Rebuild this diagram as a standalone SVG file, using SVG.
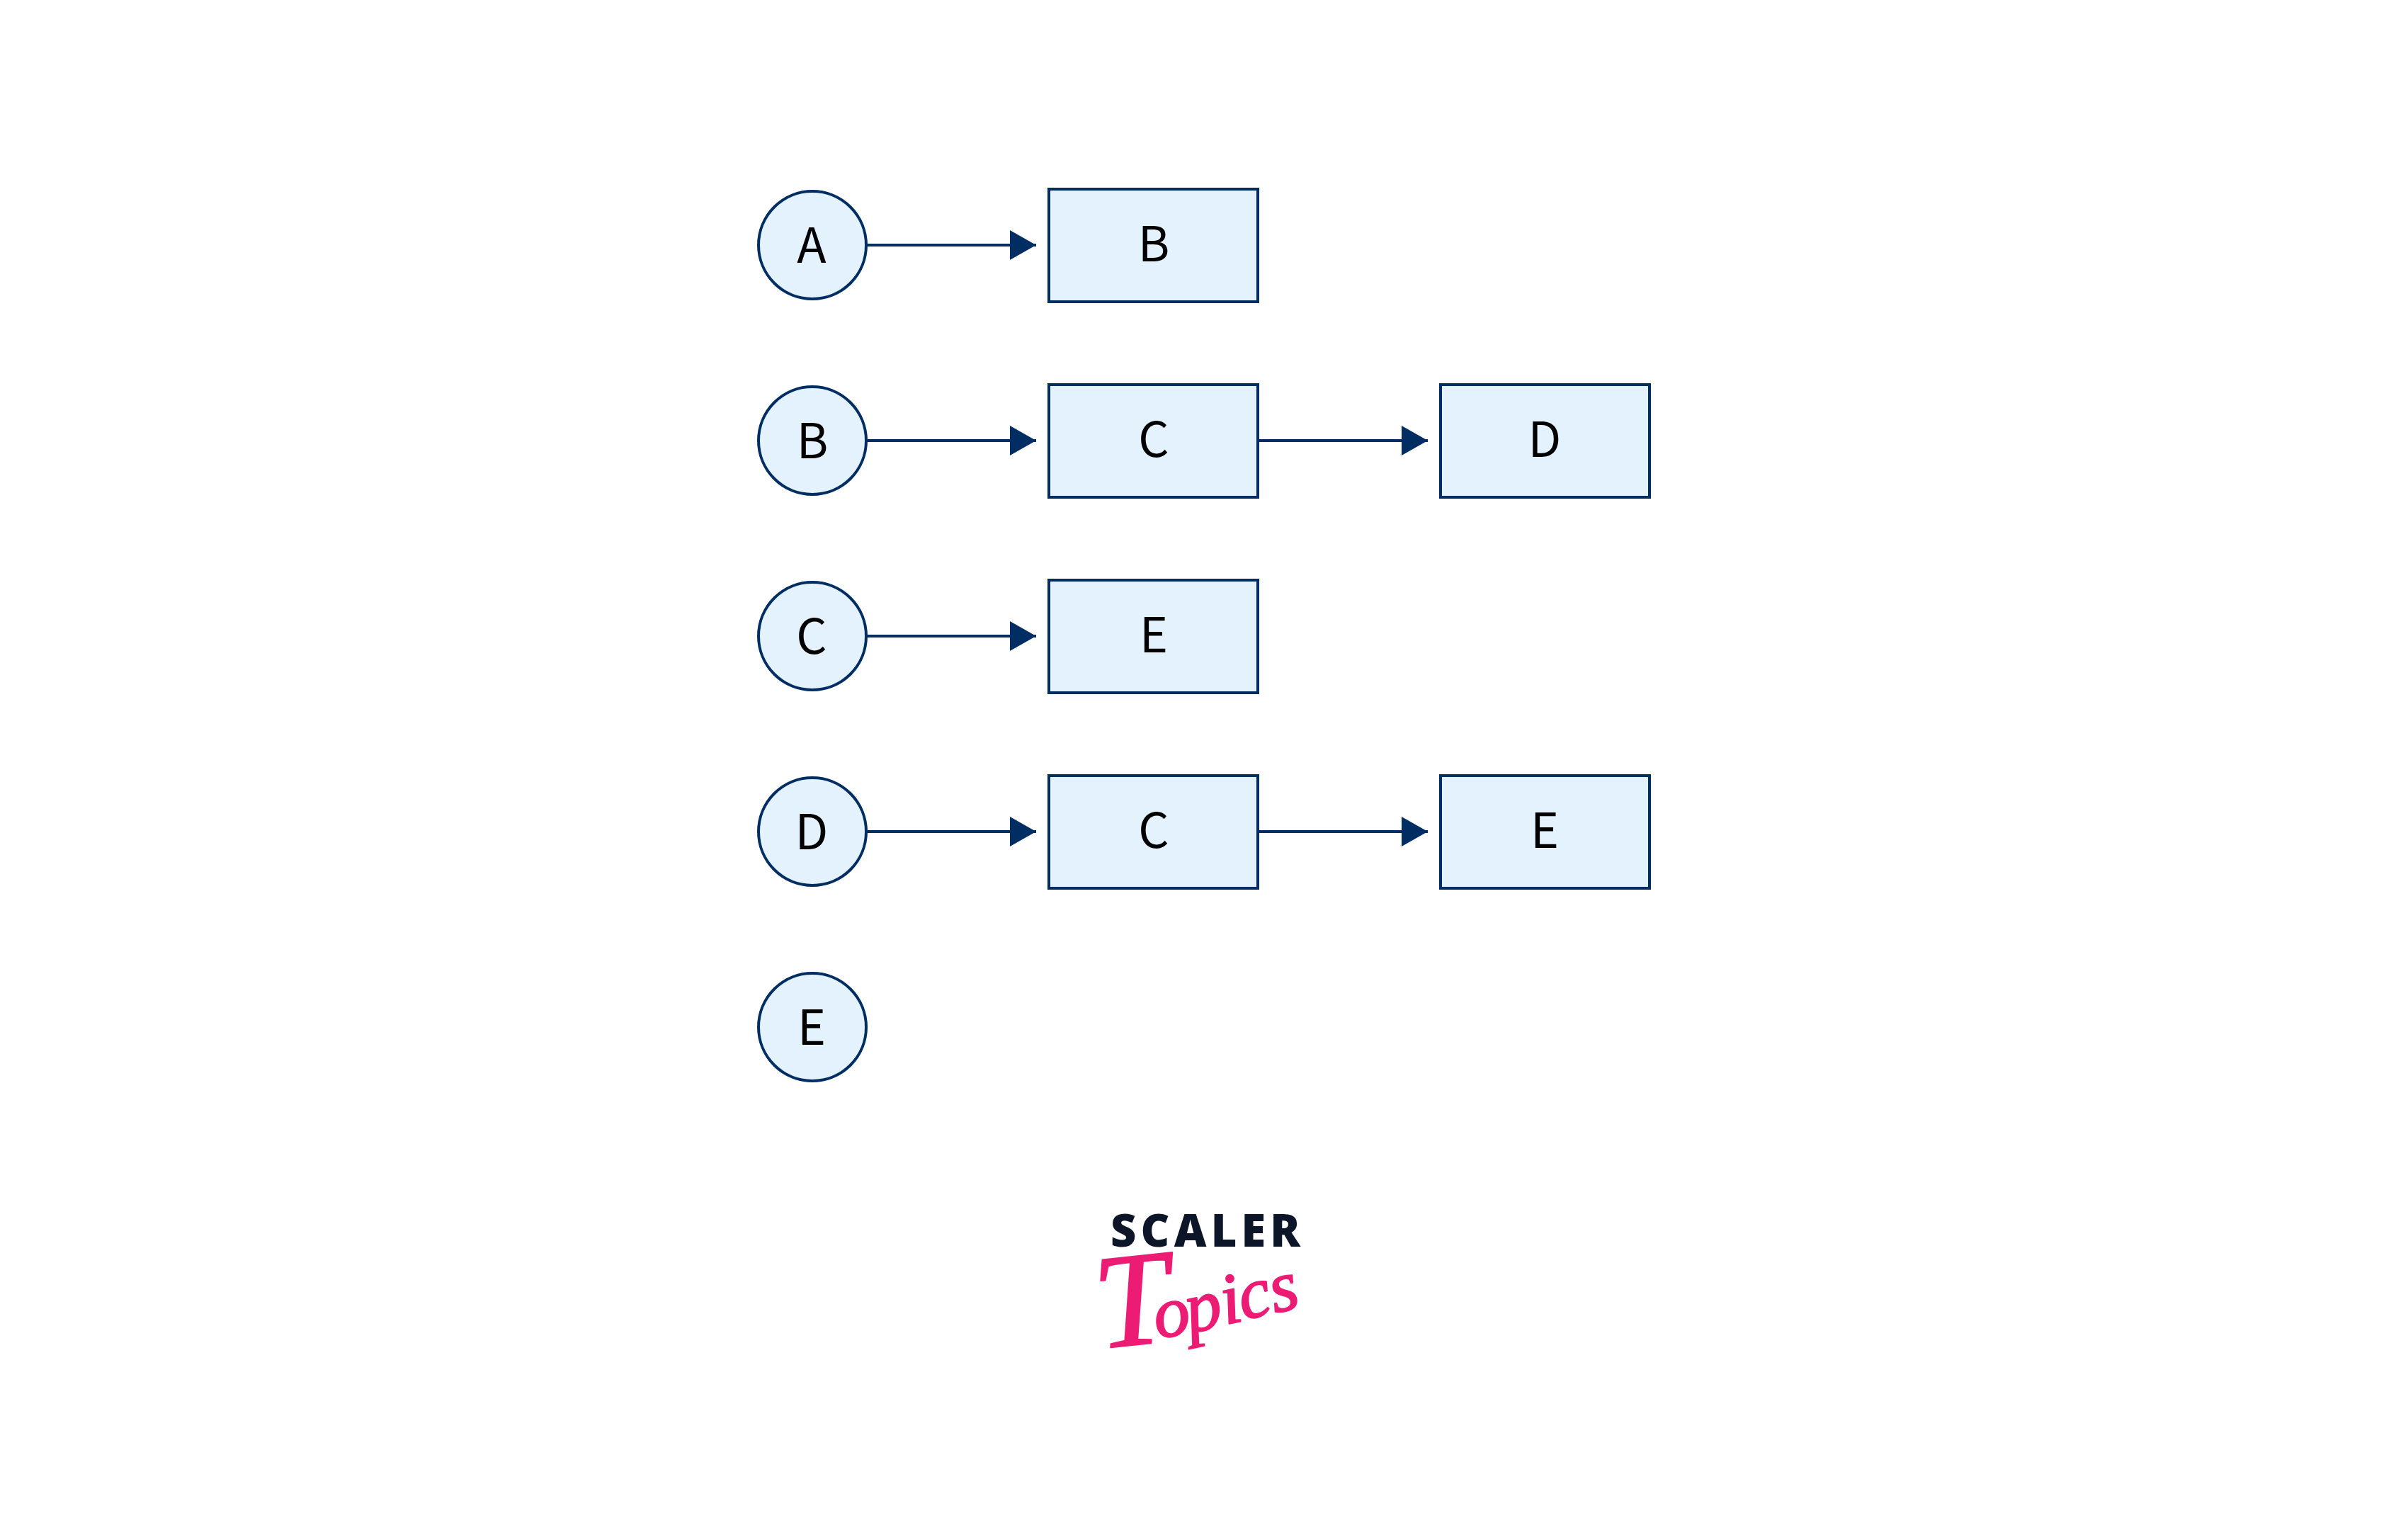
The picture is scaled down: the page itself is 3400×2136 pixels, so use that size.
<svg xmlns="http://www.w3.org/2000/svg" width="3400" height="2136" viewBox="0 0 3400 2136">
<style>
.s{fill:#e3f2fd;stroke:#002d62;stroke-width:4}
.t{font-family:"Noto Sans CJK SC","Noto Sans",sans-serif;font-size:68px;text-anchor:middle;fill:#000}
.c{fill:none;stroke:#002d62;stroke-width:4;marker-end:url(#a)}
</style>
<defs><marker id="a" markerUnits="userSpaceOnUse" markerWidth="37" markerHeight="42" refX="37" refY="21" orient="auto"><path d="M0 0L37 21L0 42Z" fill="#002d62"/></marker></defs>
<rect width="3400" height="2136" fill="#fff"/>
<g id="connectors">
<path class="c" d="M1223 346H1463"/>
<path class="c" d="M1223 622H1463"/>
<path class="c" d="M1776 622H2016"/>
<path class="c" d="M1223 898H1463"/>
<path class="c" d="M1223 1174H1463"/>
<path class="c" d="M1776 1174H2016"/>
</g>
<g id="head-a"><circle class="s" cx="1147" cy="346" r="76"/><text class="t" x="1146" y="371">A</text></g>
<g id="head-b"><circle class="s" cx="1147" cy="622" r="76"/><text class="t" x="1147" y="647">B</text></g>
<g id="head-c"><circle class="s" cx="1147" cy="898" r="76"/><text class="t" x="1146" y="923">C</text></g>
<g id="head-d"><circle class="s" cx="1147" cy="1174" r="76"/><text class="t" x="1146" y="1199">D</text></g>
<g id="head-e"><circle class="s" cx="1147" cy="1450" r="76"/><text class="t" x="1146" y="1475">E</text></g>
<g id="a-b"><rect class="s" x="1481" y="267" width="295" height="159"/><text class="t" x="1629" y="369">B</text></g>
<g id="b-c"><rect class="s" x="1481" y="543" width="295" height="159"/><text class="t" x="1629" y="645">C</text></g>
<g id="b-d"><rect class="s" x="2034" y="543" width="295" height="159"/><text class="t" x="2181" y="645">D</text></g>
<g id="c-e"><rect class="s" x="1481" y="819" width="295" height="159"/><text class="t" x="1629" y="921">E</text></g>
<g id="d-c"><rect class="s" x="1481" y="1095" width="295" height="159"/><text class="t" x="1629" y="1197">C</text></g>
<g id="d-e"><rect class="s" x="2034" y="1095" width="295" height="159"/><text class="t" x="2181" y="1197">E</text></g>
<g id="logo">
<text x="1568" y="1760" textLength="268" lengthAdjust="spacing" font-family="'Noto Sans',sans-serif" font-weight="900" font-size="63" fill="#0d1629">SCALER</text>
<text font-family="'Liberation Serif',serif" font-style="italic" fill="#ec1c75" stroke="#ec1c75" stroke-width="2" stroke-linejoin="round"><tspan font-size="190" x="1552" y="1904" rotate="-6">T</tspan><tspan font-size="102" x="1634 1680 1730 1756 1800" y="1890 1882 1870 1864 1854" rotate="-10 -12 -12 -14 -14">opics</tspan></text>
</g>
</svg>
